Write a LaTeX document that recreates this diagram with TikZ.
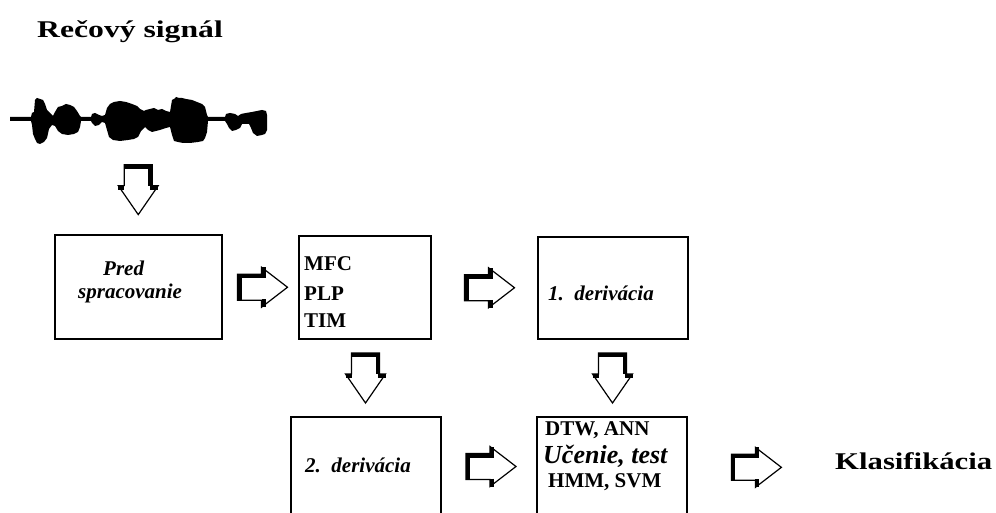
\documentclass[tikz,border=0pt]{standalone}
\usepackage{fontspec}
\setmainfont{Liberation Serif}
\newfontfamily\headfont[FakeStretch=1.32]{Liberation Serif}
\newfontfamily\resultfont[FakeStretch=1.28]{Liberation Serif}
\usetikzlibrary{calc}

\tikzset{
  box/.style={draw, line width=1.5pt, fill=white, inner sep=0pt},
  boxtext/.style={anchor=base west, inner sep=0pt, font=\bfseries\fontsize{21}{24}\selectfont},
  boxital/.style={boxtext, font=\bfseries\itshape\fontsize{21}{24}\selectfont},
  headline/.style={anchor=base west, inner sep=0pt},
  emboss/.style={line width=4pt, line cap=butt},
  % hollow block arrow pointing right, with an embossed back edge
  rarr/.pic={
    \draw[line width=1.2pt, fill=white, line join=miter]
      (-25,-13) -- (-1,-13) -- (-1,-20) -- (25,0) -- (-1,20) -- (-1,13) -- (-25,13) -- cycle;
    \draw[emboss] (-23,-13) -- (-23,13.5);
    \draw[emboss] (-25,-11) -- (1,-11) -- (1,-20);
    \draw[emboss] (1,12) -- (1,20);
  },
  % hollow block arrow pointing down, with an embossed back edge
  darr/.pic={
    \draw[line width=1.2pt, fill=white, line join=miter]
      (-14,-25) -- (14,-25) -- (14,-4) -- (20,-4) -- (0,25) -- (-20,-4) -- (-14,-4) -- cycle;
    \draw[emboss] (-14.5,-23) -- (12,-23) -- (12,-4);
    \draw[emboss] (-20,-2) -- (-14,-2);
    \draw[emboss] (12,-2) -- (20,-2);
  }
}

\begin{document}
\begin{tikzpicture}[x=1pt, y=-1pt]
  \useasboundingbox (0,0) rectangle (996,513);
  \clip (0,0) rectangle (996,513);
  \fill[white] (0,0) rectangle (996,513);

  % heading
  \node[headline, font=\headfont\bfseries\fontsize{24}{28}\selectfont] (title) at (37,38) {Rečový signál};

  % speech waveform
  \fill[black]
    (10,117) -- (31,117) -- (32,113) -- (34,112) -- (35,100) -- (37,98) -- (40,99) -- (43,100)
    -- (45,104) -- (47,110) -- (50,113) -- (53,116) -- (55,112) -- (58,107) -- (62,106) -- (66,104)
    -- (70,105) -- (74,107) -- (77,111) -- (80,116) -- (81,117) -- (91,117) -- (92,114) -- (95,113)
    -- (99,115) -- (102,116) -- (105,115) -- (107,108) -- (110,104) -- (114,102) -- (120,101)
    -- (126,102) -- (132,104) -- (137,106) -- (140,109) -- (144,111) -- (146,110) -- (150,109)
    -- (154,108) -- (158,110) -- (162,109) -- (166,111) -- (170,112) -- (172,100) -- (174,99)
    -- (176,97) -- (179,98) -- (182,98) -- (186,99) -- (192,100) -- (197,102) -- (202,104)
    -- (205,107) -- (207,115) -- (208,117) -- (225,117) -- (226,114) -- (230,113) -- (235,114)
    -- (238,116) -- (241,114) -- (246,113) -- (252,112) -- (257,111) -- (262,110) -- (266,111)
    -- (267,115)
    -- (267,130) -- (265,134) -- (262,135) -- (257,136) -- (253,133) -- (251,128) -- (249,124)
    -- (246,124) -- (242,124) -- (240,128) -- (236,130) -- (232,131) -- (229,128) -- (227,124)
    -- (225,121) -- (208,121) -- (207,132) -- (205,138) -- (203,141) -- (198,142) -- (190,143)
    -- (183,143) -- (178,142) -- (174,141) -- (172,135) -- (170,127) -- (166,128) -- (160,130)
    -- (156,131) -- (152,132) -- (148,130) -- (145,127) -- (141,131) -- (138,137) -- (134,139)
    -- (128,140) -- (120,141) -- (113,140) -- (109,137) -- (107,130) -- (105,123) -- (102,122)
    -- (99,125) -- (95,126) -- (92,123) -- (91,121) -- (81,121) -- (80,127) -- (78,132)
    -- (74,134) -- (68,135) -- (62,134) -- (58,131) -- (55,126) -- (52,125) -- (49,129)
    -- (47,138) -- (44,142) -- (40,144) -- (37,143) -- (35,139) -- (33,134) -- (32,125)
    -- (31,121) -- (10,121) -- cycle;
  \coordinate (wave) at (138,145);

  % processing boxes
  \node[box, minimum width=167pt, minimum height=104pt] (pre) at (138.5,287) {};
  \node[box, minimum width=132pt, minimum height=103pt] (feat) at (365,287.5) {};
  \node[box, minimum width=150pt, minimum height=102pt] (der1) at (613,288) {};
  \node[box, minimum width=150pt, minimum height=130pt] (der2) at (366,482) {};
  \node[box, minimum width=150pt, minimum height=130pt] (cls) at (612,482) {};

  % box labels
  \node[boxital] (pretxt1) at (103,275) {Pred};
  \node[boxital] (pretxt2) at (78,298) {spracovanie};
  \node[boxtext] (mfc) at (304,270) {MFC};
  \node[boxtext] (plp) at (304,300) {PLP};
  \node[boxtext] (tim) at (304,327) {TIM};
  \node[boxital] (d1txt) at (548,300) {1.\ \ derivácia};
  \node[boxital] (d2txt) at (305,472) {2.\ \ derivácia};
  \node[boxtext] (dtw) at (545,435) {DTW, ANN};
  \node[boxital, font=\bfseries\itshape\fontsize{26}{30}\selectfont] (learn) at (543,463) {Učenie, test};
  \node[boxtext] (hmm) at (548,487) {HMM, SVM};

  \node[headline, font=\resultfont\bfseries\fontsize{24}{28}\selectfont] (result) at (835,469) {Klasifikácia};

  % flow arrows
  \pic at ($(wave)!0.5!(pre.north)$) {darr};
  \pic at ($(pre.east)!0.5!(feat.west)+(2,0)$) {rarr};
  \pic at ($(feat.east)!0.5!(der1.west)+(5,0)$) {rarr};
  \pic at ($(feat.south)!0.5!(der2.north)$) {darr};
  \pic at ($(der1.south)!0.5!(cls.north)$) {darr};
  \pic at ($(der2.east)!0.5!(cls.west)+(2,-15.5)$) {rarr};
  \pic at ($(cls.east)!0.5!(result.west)+(-5,-4)$) {rarr};
\end{tikzpicture}
\end{document}
